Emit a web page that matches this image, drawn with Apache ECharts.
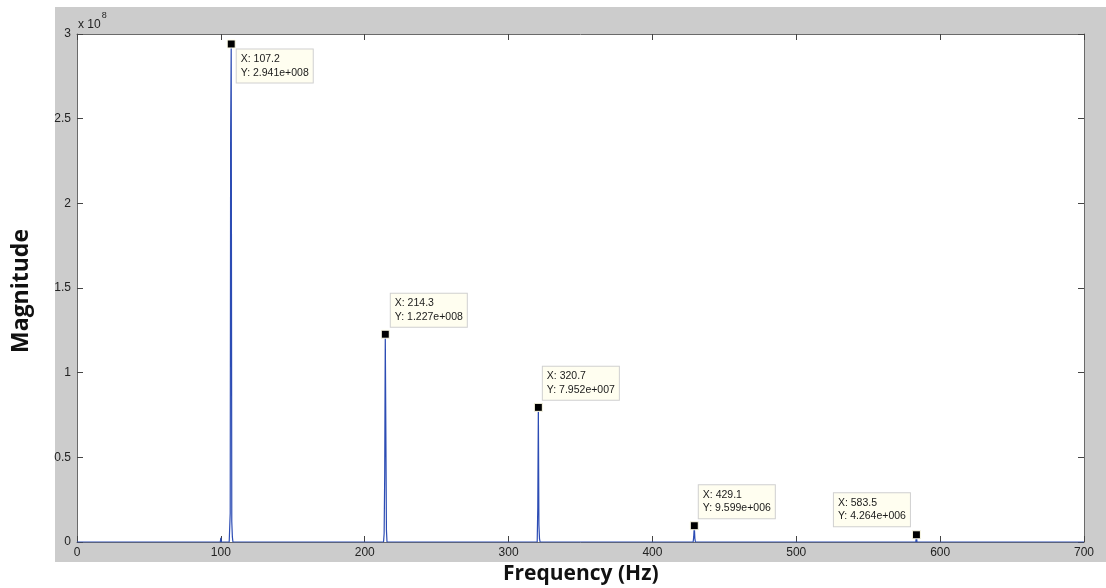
<!DOCTYPE html>
<html>
<head>
<meta charset="utf-8">
<script src="https://cdn.jsdelivr.net/npm/echarts@6/dist/echarts.min.js"></script>
<style>
html,body{margin:0;padding:0;background:#fff;}
#c{width:1106px;height:588px;}
</style>
</head>
<body>
<div id="c"></div>
<script>
// Spectrum samples (Hz, magnitude)
var freqHz = [0, 99.6, 100.0, 100.4, 105.8, 106.2, 106.5, 106.8, 107.2, 107.6, 108.0, 108.4,
  160.6, 161.0, 161.4, 213.1, 213.5, 213.9, 214.3, 214.7, 215.1, 215.5,
  238.6, 239.0, 239.4, 319.9, 320.3, 320.7, 321.1, 321.5, 321.9,
  402.4, 402.8, 403.2, 428.3, 428.7, 429.1, 429.5, 429.9, 583.1, 583.5, 583.9, 700];
var magnitude = [0, 0, 2.5e6, 0, 0, 1.0e6, 1.7e7, 2.42e8, 2.941e8, 1.2e7, 3.0e6, 0,
  0, 6.0e5, 0, 0, 5.0e6, 4.0e7, 1.227e8, 6.5e7, 7.0e6, 0,
  0, 5.0e5, 0, 0, 2.0e7, 7.952e7, 1.0e7, 2.0e6, 0,
  0, 8.0e5, 0, 0, 3.0e6, 9.599e6, 2.0e6, 0, 0, 4.264e6, 0, 0];

// Data tips
var tipFreq = [107.2, 214.3, 320.7, 429.1, 583.5];
var tipMag = [2.941e8, 1.227e8, 7.952e7, 9.599e6, 4.264e6];

// Axis ticks
var xTicks = [0, 100, 200, 300, 400, 500, 600, 700];
var yTickLabels = ['0', '0.5', '1', '1.5', '2', '2.5', '3'];

var tipOffsets = [[10, 10], [10, -36], [9, -36], [9, -36], [-78, -37]];

function matlabExp(v) {
  var s = v.toExponential(3);
  var parts = s.split('e');
  var sign = parts[1].charAt(0);
  var num = parts[1].slice(1);
  while (num.length < 3) num = '0' + num;
  return parts[0] + 'e' + sign + num;
}

var lineData = freqHz.map(function (f, i) { return [f, magnitude[i]]; });
var tipData = tipFreq.map(function (f, i) {
  return {
    value: [f, tipMag[i]],
    label: { position: tipOffsets[i] }
  };
});

var chart = echarts.init(document.getElementById('c'));
var axisColor = '#6a6a6a';
var fontFam = '"Liberation Sans", Arial, sans-serif';
chart.setOption({
  backgroundColor: '#ffffff',
  animation: false,
  graphic: [
    { type: 'rect', z: -100, shape: { x: 55, y: 7, width: 1051, height: 555 }, style: { fill: '#cccccc' }, silent: true },
    { type: 'text', left: 78, top: 11, z: 100,
      style: { text: '{a|x 10}{b|8}', rich: {
        a: { fontSize: 12, fontFamily: fontFam, fill: '#222', padding: [8, 0, 0, 0] },
        b: { fontSize: 9, fontFamily: fontFam, fill: '#222', verticalAlign: 'top', padding: [0, 0, 8, 1] }
      } } },
    { type: 'text', left: 503, top: 564, z: 100,
      style: { text: 'Frequency (Hz)', fontSize: 21, fontWeight: 'bold', fontFamily: '"Open Sans", sans-serif', fill: '#111' } },
    { type: 'text', left: 10, top: 229, rotation: Math.PI / 2, z: 100,
      style: { text: 'Magnitude', fontSize: 23, fontWeight: 'bold', fontFamily: '"Open Sans", sans-serif', fill: '#111' } }
  ],
  grid: { left: 77, right: 22, top: 34, bottom: 46, show: true, backgroundColor: '#ffffff', borderWidth: 0 },
  xAxis: [
    { type: 'value', min: 0, max: 700, interval: 100, position: 'bottom',
      axisLine: { show: true, onZero: false, lineStyle: { color: axisColor, width: 1 } },
      axisTick: { show: true, inside: true, length: 6, lineStyle: { color: '#444' } },
      axisLabel: { show: true, color: '#222', fontSize: 12, fontFamily: fontFam, margin: 5,
        formatter: function (v) { return xTicks.indexOf(v) >= 0 ? String(v) : ''; } },
      splitLine: { show: false } },
    { type: 'value', min: 0, max: 700, interval: 100, position: 'top',
      axisLine: { show: true, onZero: false, lineStyle: { color: axisColor, width: 1 } },
      axisTick: { show: true, inside: true, length: 6, lineStyle: { color: '#444' } },
      axisLabel: { show: false }, splitLine: { show: false } }
  ],
  yAxis: [
    { type: 'value', min: 0, max: 3e8, interval: 0.5e8, position: 'left',
      axisLine: { show: true, onZero: false, lineStyle: { color: axisColor, width: 1 } },
      axisTick: { show: true, inside: true, length: 6, lineStyle: { color: '#444' } },
      axisLabel: { show: true, color: '#222', fontSize: 12, fontFamily: fontFam, margin: 6,
        formatter: function (v) { return yTickLabels[Math.round(v / 0.5e8)]; } },
      splitLine: { show: false } },
    { type: 'value', min: 0, max: 3e8, interval: 0.5e8, position: 'right',
      axisLine: { show: true, onZero: false, lineStyle: { color: axisColor, width: 1 } },
      axisTick: { show: true, inside: true, length: 6, lineStyle: { color: '#444' } },
      axisLabel: { show: false }, splitLine: { show: false } }
  ],
  series: [
    { type: 'line', data: lineData, xAxisIndex: 0, yAxisIndex: 0, showSymbol: false, symbol: 'none',
      lineStyle: { color: '#2c4cb4', width: 1.2 }, z: 3 },
    { type: 'scatter', data: tipData, xAxisIndex: 0, yAxisIndex: 0, symbol: 'rect', symbolSize: 8,
      itemStyle: { color: '#000000', borderColor: '#fffde8', borderWidth: 1, opacity: 1 }, z: 5,
      label: { show: true, align: 'left', verticalAlign: 'top',
        backgroundColor: '#fffef0', borderColor: '#d0d0d0', borderWidth: 1, padding: [3, 4, 3, 4],
        fontSize: 10.5, lineHeight: 13.5, color: '#1a1a1a', fontFamily: fontFam,
        formatter: function (p) { return 'X: ' + p.value[0] + '\nY: ' + matlabExp(p.value[1]); } } }
  ]
});
</script>
</body>
</html>
